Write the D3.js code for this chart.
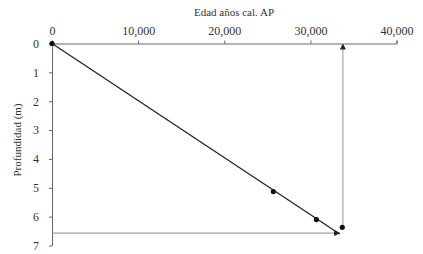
<!DOCTYPE html>
<html>
<head>
<meta charset="utf-8">
<script src="https://cdn.jsdelivr.net/npm/d3@7"></script>
<style>
  body { margin: 0; background: #fff; }
  svg { display: block; font-family: "Liberation Serif", "DejaVu Serif", serif; }
</style>
</head>
<body>
<svg width="423" height="254"></svg>
<script>
// values
const ages = [0, 25700, 30700, 33700];          // años cal. AP
const depths = [0, 5.13, 6.1, 6.37];           // m
const fitLine = [[0, 0], [33400, 6.6]];        // regression line ends
const arrowH = [[0, 6.57], [33450, 6.57]];     // depth -> age
const arrowV = [[33780, 6.35], [33780, 0]];    // age up to axis
const xTicks = [0, 10000, 20000, 30000, 40000];
const yTicks = [0, 1, 2, 3, 4, 5, 6, 7];
const xTitle = 'Edad años cal. AP';
const yTitle = 'Profundidad (m)';

const svg = d3.select('svg');
const x = d3.scaleLinear().domain([0, 40000]).range([52, 396.5]);
const y = d3.scaleLinear().domain([0, 7]).range([43.5, 245.5]);

const defs = svg.append('defs');
defs.append('marker').attr('id', 'arr').attr('viewBox', '0 0 10 10')
  .attr('refX', 10).attr('refY', 5).attr('markerWidth', 6).attr('markerHeight', 6)
  .attr('markerUnits', 'userSpaceOnUse').attr('orient', 'auto')
  .append('path').attr('d', 'M0,0L10,5L0,10z').attr('fill', '#222');

// axes
const xAxis = svg.append('g').attr('transform', `translate(0,${y(0)})`)
  .call(d3.axisTop(x).tickValues(xTicks).tickFormat(d3.format(',')).tickSizeInner(3).tickSizeOuter(3).tickPadding(6));
const yAxis = svg.append('g').attr('transform', `translate(${x(0)},0)`)
  .call(d3.axisLeft(y).tickValues(yTicks).tickFormat(d3.format('d')).tickSizeInner(3).tickSizeOuter(0).tickPadding(10));
[xAxis, yAxis].forEach(g => {
  g.select('.domain').attr('stroke', '#666');
  g.selectAll('.tick line').attr('stroke', '#666');
  g.selectAll('.tick text').attr('fill', '#333').style('font-size', '12px').style('font-family', '"Liberation Serif", serif');
});

const line = d3.line().x(d => x(d[0])).y(d => y(d[1]));

// guide arrows
svg.append('path').attr('d', line(arrowH)).attr('stroke', '#888').attr('stroke-width', 1)
  .attr('fill', 'none').attr('marker-end', 'url(#arr)');
svg.append('path').attr('d', line(arrowV)).attr('stroke', '#aaa').attr('stroke-width', 1.2)
  .attr('fill', 'none').attr('marker-end', 'url(#arr)');

// fit line
svg.append('path').attr('d', line(fitLine)).attr('stroke', '#222').attr('stroke-width', 1.3).attr('fill', 'none');

// dated samples
svg.selectAll('circle.pt').data(ages).enter().append('circle').attr('class', 'pt')
  .attr('cx', d => x(d)).attr('cy', (d, i) => y(depths[i])).attr('r', 2.6).attr('fill', '#111');

// titles
svg.append('text').attr('x', 234).attr('y', 16).attr('text-anchor', 'middle')
  .style('font-size', '11px').attr('fill', '#333').text(xTitle);
svg.append('text').attr('transform', 'translate(21,140) rotate(-90)').attr('text-anchor', 'middle')
  .style('font-size', '11px').attr('fill', '#333').text(yTitle);
</script>
</body>
</html>
